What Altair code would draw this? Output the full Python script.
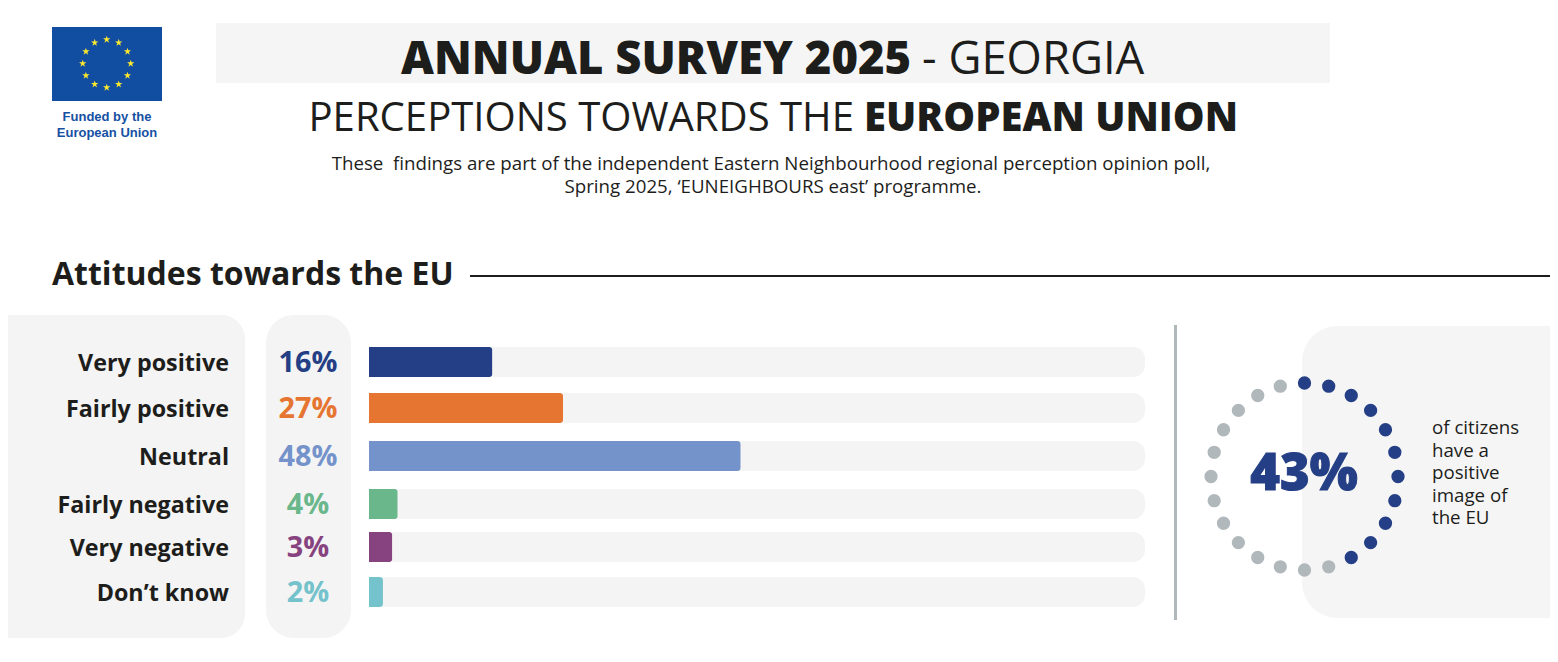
import altair as alt
import pandas as pd

# ---- chart values ----
categories = ["Very positive", "Fairly positive", "Neutral", "Fairly negative", "Very negative", "Don\u2019t know"]
percent_labels = ["16%", "27%", "48%", "4%", "3%", "2%"]
bar_lengths = [15.9, 25.0, 47.9, 3.7, 3.0, 1.8]
track_full = [100, 100, 100, 100, 100, 100]
bar_colors = ["#243f85", "#e67532", "#7593cb", "#6ab78c", "#87437f", "#74c2cb"]
rows = [0, 1, 2, 3, 4, 5]

dot_state = ["positive"] * 11 + ["rest"] * 13
dot_steps = list(range(24))
star_steps = list(range(12))

side_lines = ["of citizens", "have a", "positive", "image of", "the EU"]

INK = "#1d1d1b"
PANEL = "#f4f4f4"
FONT = "Open Sans"
M = 8  # page margin


def box(x0, x1, y0, y1, color, radius=0):
    return alt.Chart(pd.DataFrame({"a": [0]})).mark_rect(color=color, cornerRadius=radius).encode(
        x=alt.value(x0 - M), x2=alt.value(x1 - M), y=alt.value(y0 - M), y2=alt.value(y1 - M)
    )


def label(text, x, y, size, weight=400, align="left", color=INK, font=FONT, **extra):
    return alt.Chart(pd.DataFrame({"a": [0]})).mark_text(
        text=text, font=font, fontSize=size, fontWeight=weight, align=align, baseline="middle", color=color, **extra
    ).encode(x=alt.value(x - M), y=alt.value(y - M))


table = pd.DataFrame({
    "cat": categories, "pct": percent_labels, "len": bar_lengths, "full": track_full, "row": rows,
})

X_BAR = alt.Scale(domain=[0, 100], range=[369 - M, 1145 - M], nice=False, zero=False, padding=0)
Y_ROW = alt.Scale(domain=rows, range=[c - M for c in [362, 408, 456, 504, 547, 592]], nice=False, zero=False, padding=0)
COLOR = alt.Scale(domain=categories, range=bar_colors)

base = alt.Chart(table)
ycode = alt.Y("row:Q", scale=Y_ROW, axis=None)

track = base.mark_bar(size=30, orient="horizontal", color=PANEL, cornerRadiusEnd=12).encode(
    x=alt.X("full:Q", scale=X_BAR, axis=None), y=ycode
)
bars = base.mark_bar(size=30, orient="horizontal", cornerRadiusEnd=3).encode(
    x=alt.X("len:Q", scale=X_BAR, axis=None), y=ycode,
    color=alt.Color("cat:N", scale=COLOR, legend=None),
)
row_names = base.mark_text(font=FONT, fontSize=23.3, fontWeight=700, align="right", baseline="middle", color=INK, dy=1.5).encode(
    x=alt.value(229 - M), y=ycode, text="cat:N"
)
row_pcts = base.mark_text(font=FONT, fontSize=28.8, fontWeight=700, align="center", baseline="middle", dy=0.5).encode(
    x=alt.value(308 - M), y=ycode, text="pct:N",
    color=alt.Color("cat:N", scale=COLOR, legend=None),
)

# ring of dots
dots = alt.Chart(pd.DataFrame({"step": dot_steps, "state": dot_state})).transform_calculate(
    dx="sin(datum.step * PI / 12)", dy="cos(datum.step * PI / 12)"
).mark_circle(size=177, opacity=1).encode(
    x=alt.X("dx:Q", scale=alt.Scale(domain=[-1, 1], range=[1304.5 - 93.5 - M, 1304.5 + 93.5 - M]), axis=None),
    y=alt.Y("dy:Q", scale=alt.Scale(domain=[-1, 1], range=[476.5 + 93.5 - M, 476.5 - 93.5 - M]), axis=None),
    color=alt.Color("state:N", scale=alt.Scale(domain=["positive", "rest"], range=["#243f85", "#b1b8bb"]), legend=None),
)

# EU flag stars
STAR = "M0,-1L0.225,-0.31L0.95,-0.31L0.36,0.12L0.59,0.81L0,0.38L-0.59,0.81L-0.36,0.12L-0.95,-0.31L-0.225,-0.31Z"
stars = alt.Chart(pd.DataFrame({"step": star_steps})).transform_calculate(
    dx="sin(datum.step * PI / 6)", dy="cos(datum.step * PI / 6)"
).mark_point(shape=STAR, size=60, filled=True, opacity=1, color="#ffe92e").encode(
    x=alt.X("dx:Q", scale=alt.Scale(domain=[-1, 1], range=[106.7 - 24 - M, 106.7 + 24 - M]), axis=None),
    y=alt.Y("dy:Q", scale=alt.Scale(domain=[-1, 1], range=[63.5 + 24 - M, 63.5 - 24 - M]), axis=None),
)

rule = alt.Chart(pd.DataFrame({"a": [0]}))
section_line = rule.mark_rule(color=INK, strokeWidth=2).encode(
    x=alt.value(470 - M), x2=alt.value(1558), y=alt.value(276 - M)
)
divider = rule.mark_rule(color="#b1b8bb", strokeWidth=3).encode(
    x=alt.value(1175.5 - M), y=alt.value(325 - M), y2=alt.value(620 - M)
)

layers = [
    box(216, 1330, 23, 83, "#f5f5f5"),
    box(52, 162, 27, 101, "#114ea1"),
    stars,
    label("Funded by the", 107, 117, 13, 700, "center", "#1550a3", "Liberation Sans"),
    label("European Union", 107, 132.5, 13, 700, "center", "#1550a3", "Liberation Sans"),
    label("ANNUAL SURVEY 2025", 401, 59.5, 45.4, 800),
    label("- GEORGIA", 922, 59.5, 45.4, 400),
    label("PERCEPTIONS TOWARDS THE", 308.5, 119, 40.1, 400),
    label("EUROPEAN UNION", 864, 119, 40.0, 800),
    label("These\u00a0 findings are part of the independent Eastern Neighbourhood regional perception opinion poll,", 771, 164, 18.7, 400, "center"),
    label("Spring 2025, \u2018EUNEIGHBOURS east\u2019 programme.", 773, 186.5, 18.7, 400, "center"),
    label("Attitudes towards the EU", 52, 275, 32, 700),
    section_line,
    box(-20, 245, 315, 638, PANEL, 24),
    box(266, 351, 315, 638, PANEL, 28),
    track, bars, row_names, row_pcts,
    divider,
    box(1302, 1600, 326, 618, "#f5f5f5", 36),
    dots,
    label("43%", 1304, 475, 50.7, 800, "center", "#243f85", stroke="#243f85", strokeWidth=1),
]
for line, yy in zip(side_lines, [428, 450.5, 473, 495.5, 517.5]):
    layers.append(label(line, 1432, yy, 18.7))

chart = alt.layer(*layers).resolve_scale(
    x="independent", y="independent", color="independent"
).properties(
    width=1542, height=646, padding=0, background="white",
    autosize=alt.AutoSizeParams(type="none"),
).configure_view(strokeWidth=0)

chart.save("out.html", embed_options={"renderer": "svg", "actions": False})
